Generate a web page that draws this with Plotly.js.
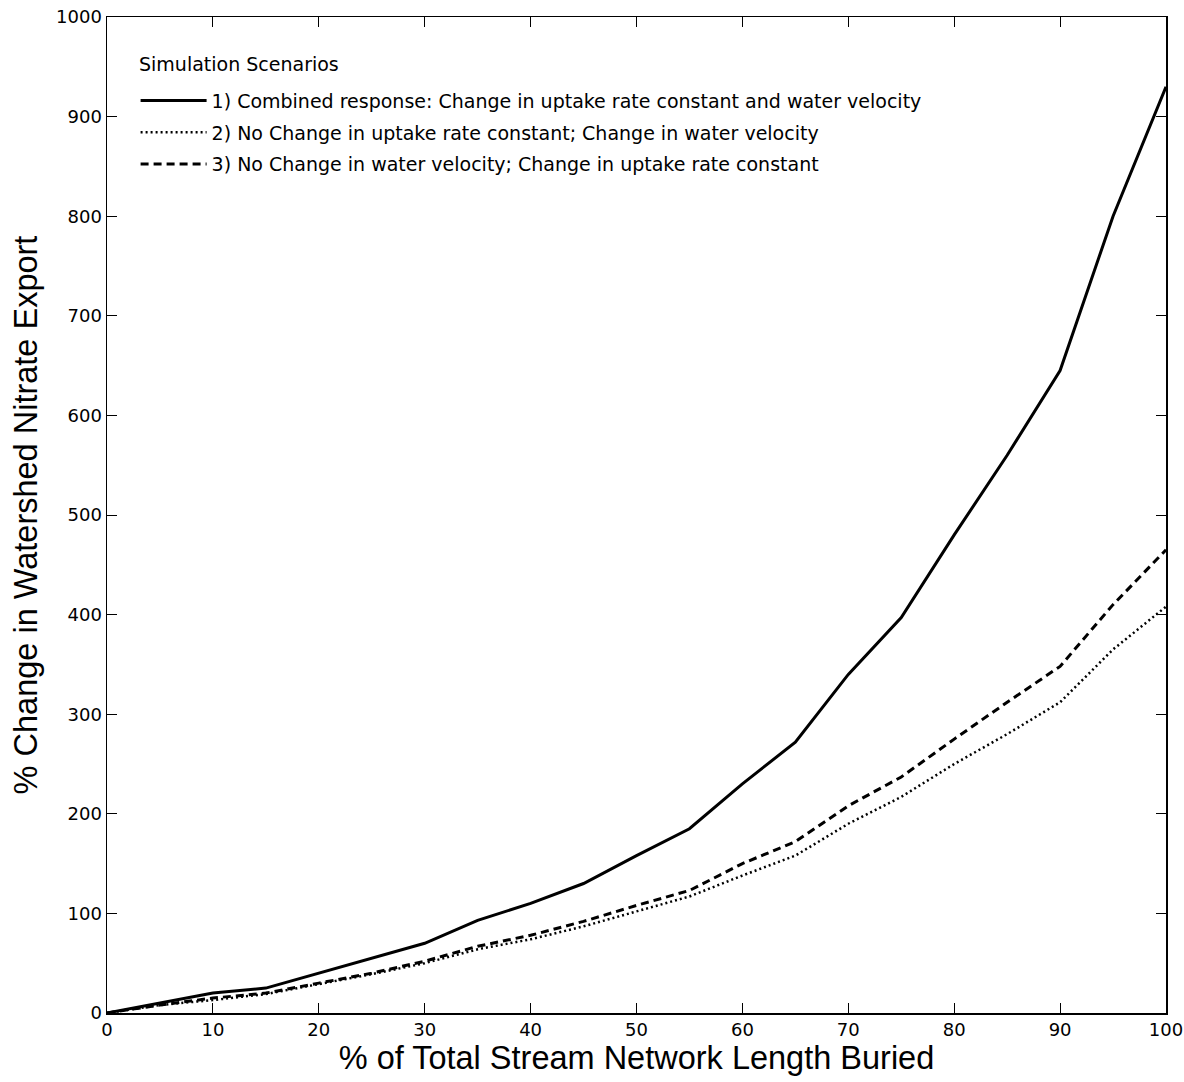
<!DOCTYPE html>
<html>
<head>
<meta charset="utf-8">
<script src="https://cdn.plot.ly/plotly-3.0.1.min.js"></script>
<style>html,body{margin:0;padding:0;background:#fff;}#chart{width:1184px;height:1082px;}</style>
</head>
<body>
<div id="chart"></div>
<script>
const xBuried = [0,5,10,15,20,25,30,35,40,45,50,55,60,65,70,75,80,85,90,95,100];
const combined = [0,10,20,25,40,55,70,93,110,130,158,185,230,272,340,397,480,560,645,800,930];
const velocityOnly = [0,8,13,19,29,39,50,64,74,87,102,117,138,158,190,217,250,280,312,365,408];
const uptakeOnly = [0,8,15,20,30,40,52,67,78,92,108,123,150,172,208,237,275,312,348,410,465];
const seriesNames = [
  "1) Combined response: Change in uptake rate constant and water velocity",
  "2) No Change in uptake rate constant; Change in water velocity",
  "3) No Change in water velocity; Change in uptake rate constant"
];
const legendTitle = "Simulation Scenarios";
const xTicks = [0,10,20,30,40,50,60,70,80,90,100];
const yTicks = [0,100,200,300,400,500,600,700,800,900,1000];

const tickFont = 'DejaVu Sans, Verdana, sans-serif';
const titleFont = 'Liberation Sans, Arial, sans-serif';

const traces = [
  {x:xBuried, y:combined, name:seriesNames[0], legendgroup:'a', mode:'lines', line:{color:'#000', width:3, dash:'solid'}},
  {x:xBuried, y:velocityOnly, name:seriesNames[1], legendgroup:'b', mode:'lines', line:{color:'#000', width:2.5, dash:'2px,3px'}},
  {x:xBuried, y:uptakeOnly, name:seriesNames[2], legendgroup:'c', mode:'lines', line:{color:'#000', width:3, dash:'8px,5px'}}
];

const axisCommon = {
  showgrid:false, zeroline:false, showline:true, linecolor:'#000', linewidth:1.5,
  mirror:'allticks', ticks:'inside', ticklen:10, tickcolor:'#000', tickwidth:1,
  tickfont:{family:tickFont, size:18, color:'#000'}, automargin:false
};

const layout = {
  width:1184, height:1082,
  margin:{l:107, r:18, t:17, b:69},
  paper_bgcolor:'#fff', plot_bgcolor:'#fff',
  xaxis:Object.assign({}, axisCommon, {
    range:[0,100], tickvals:xTicks,
    title:{text:'% of Total Stream Network Length Buried', font:{family:titleFont, size:32.5, color:'#000'}, standoff:7}
  }),
  yaxis:Object.assign({}, axisCommon, {
    range:[0,1000], tickvals:yTicks,
    title:{text:'% Change in Watershed Nitrate Export', font:{family:titleFont, size:32.5, color:'#000'}, standoff:8}
  }),
  showlegend:true,
  legend:{
    x:0.027, y:0.935, xanchor:'left', yanchor:'top',
    bgcolor:'rgba(0,0,0,0)', borderwidth:0,
    font:{family:tickFont, size:19, color:'#000'},
    itemwidth:66, traceorder:'grouped', tracegroupgap:4
  },
  annotations:[{
    text:legendTitle, xref:'paper', yref:'paper', x:0.028, y:0.953, xanchor:'left', yanchor:'middle',
    showarrow:false, font:{family:tickFont, size:19, color:'#000'}
  }]
};

Plotly.newPlot('chart', traces, layout, {displayModeBar:false, staticPlot:true});
</script>
</body>
</html>
